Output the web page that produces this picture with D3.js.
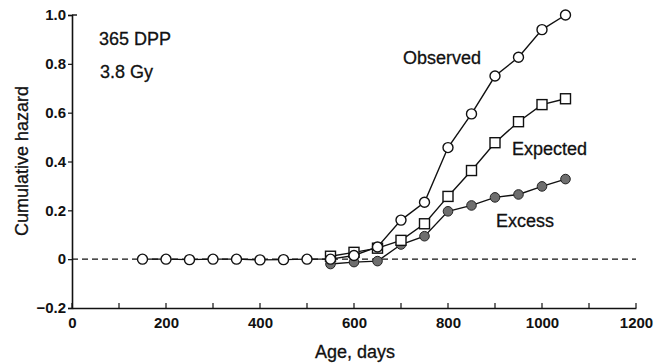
<!DOCTYPE html>
<html>
<head>
<meta charset="utf-8">
<script src="https://cdn.jsdelivr.net/npm/d3@7"></script>
<style>
  html, body { margin: 0; padding: 0; background: #fff; }
  svg text { font-family: "Liberation Sans", Arial, Helvetica, sans-serif; fill: #111; }
</style>
</head>
<body>
<svg id="chart" width="668" height="364"></svg>
<script>
// Cumulative hazard by age (days)
const ages = [150, 200, 250, 300, 350, 400, 450, 500, 550, 600, 650, 700, 750, 800, 850, 900, 950, 1000, 1050];
const observed = [0, 0, -0.002, 0, 0, -0.003, -0.002, 0, 0.0, 0.015, 0.05, 0.16, 0.233, 0.457, 0.595, 0.75, 0.827, 0.94, 1.0];

const expectedAges = [550, 600, 650, 700, 750, 800, 850, 900, 950, 1000, 1050];
const expected = [0.012, 0.028, 0.045, 0.077, 0.145, 0.257, 0.363, 0.477, 0.563, 0.633, 0.657];

const excessAges = [550, 600, 650, 700, 750, 800, 850, 900, 950, 1000, 1050];
const excess = [-0.02, -0.012, -0.008, 0.06, 0.094, 0.196, 0.22, 0.253, 0.265, 0.298, 0.328];

const xTicks = [0, 200, 400, 600, 800, 1000, 1200];
const xMinorTicks = [100, 300, 500, 700, 900, 1100];
const yTicks = [-0.2, 0, 0.2, 0.4, 0.6, 0.8, 1.0];
const yTickLabels = ["\u22120.2", "0", "0.2", "0.4", "0.6", "0.8", "1.0"];

const svg = d3.select("#chart");
const x = d3.scaleLinear().domain([0, 1200]).range([72, 636]);
const y = d3.scaleLinear().domain([-0.2, 1.0]).range([308, 15]);

const ink = "#111";

// Axes
const xAxis = svg.append("g").attr("transform", `translate(0,${y(-0.2)})`)
  .call(d3.axisBottom(x).tickValues(xTicks).tickSize(0).tickPadding(9).tickFormat(d3.format("d")));
xAxis.select(".domain").attr("stroke", ink).attr("stroke-width", 1.6);
xAxis.selectAll("text").attr("font-size", 15).attr("font-weight", "bold").attr("fill", "#1a1a1a");

// Upward ticks every 100 days
svg.append("g").selectAll("line").data(xTicks.concat(xMinorTicks)).join("line")
  .attr("x1", d => x(d)).attr("x2", d => x(d))
  .attr("y1", y(-0.2)).attr("y2", y(-0.2) - 5)
  .attr("stroke", ink).attr("stroke-width", 1.2);

const yAxis = svg.append("g").attr("transform", `translate(${x(0)},0)`)
  .call(d3.axisLeft(y).tickValues(yTicks).tickSize(4).tickPadding(2)
    .tickFormat((d, i) => yTickLabels[i]));
yAxis.select(".domain").attr("stroke", ink).attr("stroke-width", 1.6);
yAxis.selectAll(".tick line").attr("stroke", ink).attr("stroke-width", 1.2);
yAxis.selectAll("text").attr("font-size", 15).attr("font-weight", "bold").attr("fill", "#1a1a1a");

// Top cap of the vertical axis
svg.append("line").attr("x1", x(0)).attr("x2", x(0) + 5)
  .attr("y1", y(1.0)).attr("y2", y(1.0)).attr("stroke", ink).attr("stroke-width", 1.4);

// Zero reference line
svg.append("line").attr("x1", x(0)).attr("x2", x(1200))
  .attr("y1", y(0)).attr("y2", y(0))
  .attr("stroke", ink).attr("stroke-width", 1.3).attr("stroke-dasharray", "6,4");

// Axis titles
const titleStyle = sel => sel.attr("stroke", "#111").attr("stroke-width", 0.3);
svg.append("text").attr("x", 355).attr("y", 358).attr("text-anchor", "middle")
  .attr("font-size", 18).call(titleStyle).text("Age, days");
svg.append("text").attr("transform", "translate(28,161) rotate(-90)").attr("text-anchor", "middle")
  .attr("font-size", 18).call(titleStyle).text("Cumulative hazard");

// Annotations
svg.append("text").attr("x", 99).attr("y", 45).attr("font-size", 18).call(titleStyle).text("365 DPP");
svg.append("text").attr("x", 100).attr("y", 78).attr("font-size", 18).call(titleStyle).text("3.8 Gy");
svg.append("text").attr("x", 403).attr("y", 64).attr("font-size", 18).call(titleStyle).text("Observed");
svg.append("text").attr("x", 512).attr("y", 155).attr("font-size", 18).call(titleStyle).text("Expected");
svg.append("text").attr("x", 496).attr("y", 227).attr("font-size", 18).call(titleStyle).text("Excess");

const line = d3.line().x(d => x(d[0])).y(d => y(d[1]));
const obsData = d3.zip(ages, observed);
const expData = d3.zip(expectedAges, expected);
const excData = d3.zip(excessAges, excess);

function drawLine(data) {
  svg.append("path").datum(data).attr("d", line)
    .attr("fill", "none").attr("stroke", ink).attr("stroke-width", 1.4);
}

drawLine(excData);
drawLine(expData);
drawLine(obsData);

// Excess: filled grey circles
svg.append("g").selectAll("circle").data(excData).join("circle")
  .attr("cx", d => x(d[0])).attr("cy", d => y(d[1])).attr("r", 4.8)
  .attr("fill", "#6e6e6e").attr("stroke", "#222").attr("stroke-width", 1);

// Expected: open squares
svg.append("g").selectAll("rect").data(expData).join("rect")
  .attr("x", d => x(d[0]) - 5).attr("y", d => y(d[1]) - 5)
  .attr("width", 10).attr("height", 10)
  .attr("fill", "#fff").attr("stroke", ink).attr("stroke-width", 1.4);

// Observed: open circles
svg.append("g").selectAll("circle").data(obsData).join("circle")
  .attr("cx", d => x(d[0])).attr("cy", d => y(d[1])).attr("r", 5)
  .attr("fill", "#fff").attr("stroke", ink).attr("stroke-width", 1.4);
</script>
</body>
</html>
